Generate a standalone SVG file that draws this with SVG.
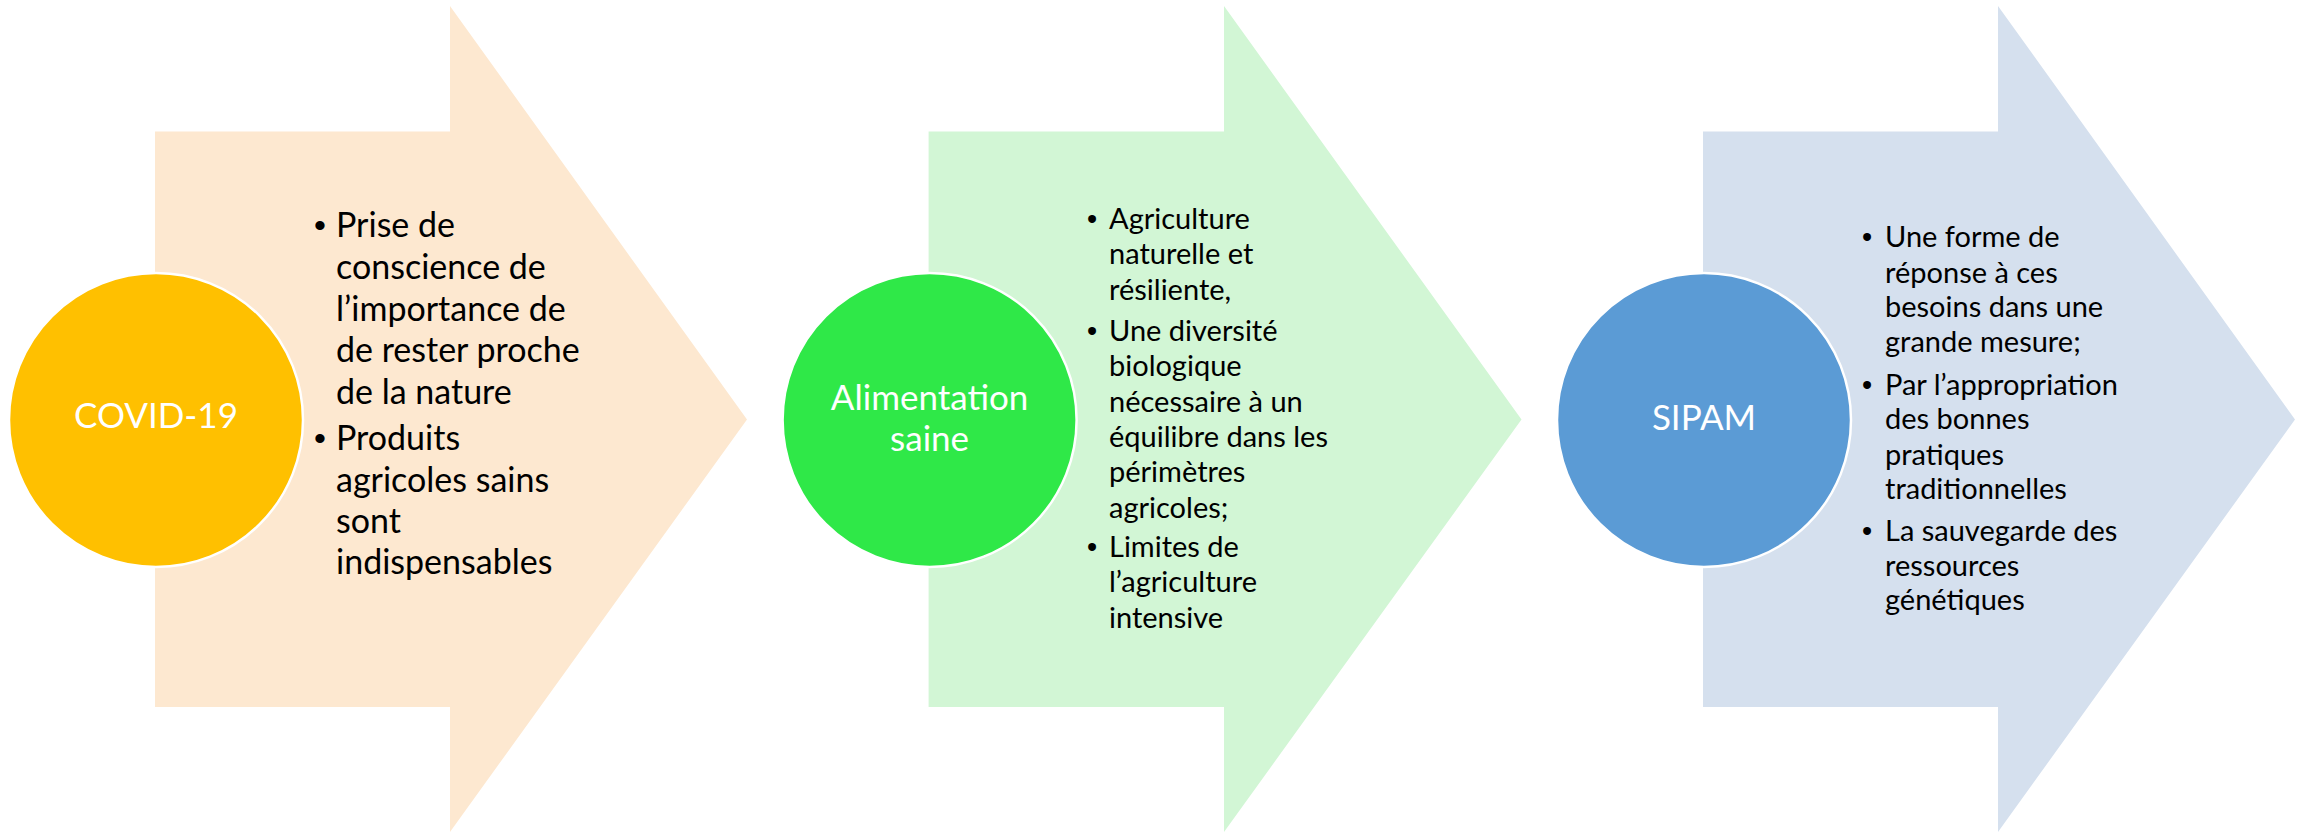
<svg xmlns="http://www.w3.org/2000/svg" width="2305" height="832" viewBox="0 0 2305 832">
<style>
.bg{fill:#ffffff}
.a1{fill:#FDE8D0}
.a2{fill:#D2F6D5}
.a3{fill:#D5E0EE}
.c{stroke:#ffffff;stroke-width:2.5}
.lbl{font-family:Lato,"Liberation Sans",sans-serif;fill:#ffffff;text-anchor:middle}
.t{font-family:Lato,"Liberation Sans",sans-serif;fill:#000000}
.b{font-family:"Liberation Sans",sans-serif;fill:#000000;text-anchor:middle}
</style>
<rect class="bg" x="0" y="0" width="2305" height="832"/>
<g id="connectors"></g>
<g id="stage1">
<polygon class="a1" points="155,131.5 450,131.5 450,6 747,419.5 450,832 450,707 155,707"/>
<circle class="c" cx="156" cy="420" r="147" fill="#FFC000"/>
<text class="lbl" x="156" y="428" font-size="35">COVID-19</text>
<g font-size="34">
<text class="b" x="320" y="237">•</text>
<text class="b" x="320" y="450">•</text>
<text class="t" x="336" y="237">Prise de</text>
<text class="t" x="336" y="279">conscience  de</text>
<text class="t" x="336" y="321">l’importance  de</text>
<text class="t" x="336" y="362">de rester proche</text>
<text class="t" x="336" y="404">de la nature</text>
<text class="t" x="336" y="450">Produits</text>
<text class="t" x="336" y="492">agricoles sains</text>
<text class="t" x="336" y="533">sont</text>
<text class="t" x="336" y="574">indispensables</text>
</g>
</g>
<g id="stage2">
<polygon class="a2" points="928.6,131.5 1224,131.5 1224,6 1521.5,419.5 1224,832 1224,707 928.6,707"/>
<circle class="c" cx="929.6" cy="420" r="147" fill="#2FE848"/>
<text class="lbl" x="929.6" y="409.5" font-size="35">Alimentation</text>
<text class="lbl" x="929.6" y="451" font-size="35">saine</text>
<g font-size="29">
<text class="b" x="1092" y="229">•</text>
<text class="b" x="1092" y="341">•</text>
<text class="b" x="1092" y="557">•</text>
<text class="t" x="1109" y="229">Agriculture</text>
<text class="t" x="1109" y="264.3">naturelle et</text>
<text class="t" x="1109" y="299.6">résiliente,</text>
<text class="t" x="1109" y="341">Une diversité</text>
<text class="t" x="1109" y="376.3">biologique</text>
<text class="t" x="1109" y="411.6">nécessaire à un</text>
<text class="t" x="1109" y="446.9">équilibre dans les</text>
<text class="t" x="1109" y="482.2">périmètres</text>
<text class="t" x="1109" y="517.5">agricoles;</text>
<text class="t" x="1109" y="557">Limites de</text>
<text class="t" x="1109" y="592.3">l’agriculture</text>
<text class="t" x="1109" y="627.6">intensive</text>
</g>
</g>
<g id="stage3">
<polygon class="a3" points="1703,131.5 1998,131.5 1998,6 2295,419.5 1998,832 1998,707 1703,707"/>
<circle class="c" cx="1704" cy="420" r="147" fill="#5B9BD5"/>
<text class="lbl" x="1704" y="430" font-size="35">SIPAM</text>
<g font-size="29">
<text class="b" x="1867" y="247">•</text>
<text class="b" x="1867" y="395">•</text>
<text class="b" x="1867" y="541">•</text>
<text class="t" x="1885" y="247">Une forme de</text>
<text class="t" x="1885" y="282.5">réponse à ces</text>
<text class="t" x="1885" y="317">besoins dans une</text>
<text class="t" x="1885" y="352">grande mesure;</text>
<text class="t" x="1885" y="395">Par l’appropriation</text>
<text class="t" x="1885" y="429">des bonnes</text>
<text class="t" x="1885" y="464.5">pratiques</text>
<text class="t" x="1885" y="499">traditionnelles</text>
<text class="t" x="1885" y="541">La sauvegarde des</text>
<text class="t" x="1885" y="575.6">ressources</text>
<text class="t" x="1885" y="610">génétiques</text>
</g>
</g>
</svg>
